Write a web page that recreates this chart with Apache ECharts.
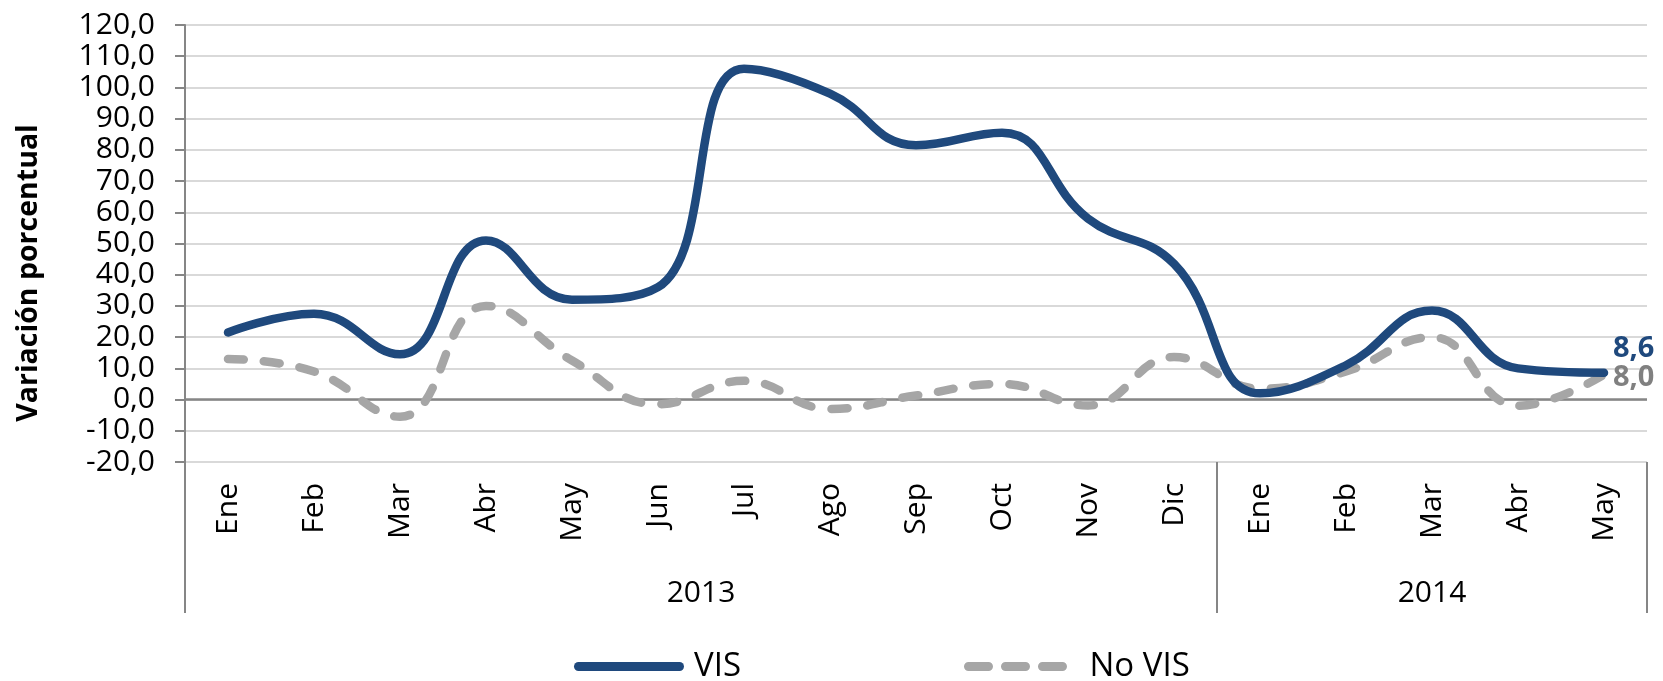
<!DOCTYPE html>
<html>
<head>
<meta charset="utf-8">
<script src="https://cdn.jsdelivr.net/npm/echarts@6/dist/echarts.min.js"></script>
<style>
  html, body { margin: 0; padding: 0; background: #fff; }
  #chart { width: 1663px; height: 681px; }
</style>
</head>
<body>
<div id="chart"></div>
<script>
// 数据
const months = ['Ene', 'Feb', 'Mar', 'Abr', 'May', 'Jun', 'Jul', 'Ago', 'Sep', 'Oct', 'Nov', 'Dic',
                'Ene', 'Feb', 'Mar', 'Abr', 'May'];
const visValues = [21.5, 27.5, 14.5, 51.0, 32.0, 36.0, 106.0, 98.0, 81.5, 85.5, 58.0, 43.5,
                   2.0, 11.0, 28.5, 10.0, 8.6];
const noVisValues = [13.0, 9.0, -5.5, 30.0, 12.5, -1.5, 6.0, -3.0, 1.3, 5.0, -1.9, 13.6,
                     3.5, 9.0, 20.0, -2.0, 8.0];
const years = ['2013', '2014'];
// 年份标签放在细分轴上（每月两格）
const yearSlots = 35;
const yearLabelIdx = [12, 29];
const yearTickIdx = [0, 24, 34];

const font = '"Open Sans", "Noto Sans", sans-serif';
const fmt = v => v.toFixed(1).replace('.', ',');

// 图例图标：实线与三段虚线
const iconSolid = 'path://M4.5,0H105.5A4.5,4.5,0,0,1,105.5,9H4.5A4.5,4.5,0,0,1,4.5,0Z';
const iconDash = 'path://M4.5,0H24.5A4.5,4.5,0,0,1,24.5,9H4.5A4.5,4.5,0,0,1,4.5,0Z' +
    'M41.5,0H61.5A4.5,4.5,0,0,1,61.5,9H41.5A4.5,4.5,0,0,1,41.5,0Z' +
    'M78.5,0H98.5A4.5,4.5,0,0,1,98.5,9H78.5A4.5,4.5,0,0,1,78.5,0Z';

const chart = echarts.init(document.getElementById('chart'));
chart.setOption({
    animation: false,
    grid: { left: 185, right: 16, top: 25, bottom: 219 },
    legend: {
        left: 569, top: 645, itemGap: 223, itemWidth: 110, itemHeight: 9,
        textStyle: { fontFamily: font, fontSize: 33, color: '#000' },
        data: [
            { name: 'VIS', icon: iconSolid, textStyle: { padding: [0, 0, 0, 5] } },
            { name: 'No VIS', icon: iconDash, textStyle: { padding: [0, 0, 0, 14] } }
        ]
    },
    graphic: [{
        type: 'text', x: 29, y: 273, rotation: Math.PI / 2,
        style: {
            text: 'Variación porcentual', fontFamily: font, fontSize: 28.5, fontWeight: 'bold',
            fill: '#000', align: 'center', verticalAlign: 'middle'
        }
    }],
    xAxis: [{
        type: 'category', data: months, boundaryGap: true,
        axisLine: { show: false }, axisTick: { show: false },
        axisLabel: { rotate: 90, margin: 21, interval: 0, fontFamily: font, fontSize: 30, color: '#000' }
    }, {
        type: 'category', position: 'bottom', boundaryGap: false,
        data: Array.from({ length: yearSlots }, (_, i) => {
            const k = yearLabelIdx.indexOf(i);
            return k >= 0 ? years[k] : '';
        }),
        axisLine: { show: false },
        axisTick: {
            show: true, length: 151, interval: i => yearTickIdx.includes(i),
            lineStyle: { color: '#868686', width: 2 }
        },
        axisLabel: {
            interval: 0, margin: 116, fontFamily: font, fontSize: 30, color: '#000',
            formatter: v => v
        }
    }],
    yAxis: {
        type: 'value', min: -20, max: 120, interval: 10,
        axisLine: { show: true, lineStyle: { color: '#868686', width: 2 } },
        axisTick: { show: true, length: 10, lineStyle: { color: '#868686', width: 2 } },
        axisLabel: { margin: 30, formatter: fmt, fontFamily: font, fontSize: 30, color: '#000' },
        splitLine: { lineStyle: { color: '#d9d9d9', width: 2 } }
    },
    series: [{
        name: 'VIS', type: 'line', data: visValues,
        smooth: 0.45, symbol: 'none', z: 3,
        lineStyle: { color: '#1f497d', width: 8.5, cap: 'round', join: 'round' },
        itemStyle: { color: '#1f497d' },
        endLabel: {
            show: true, distance: 9, offset: [0, -24], formatter: p => fmt(p.value),
            color: '#1f497d', fontFamily: font, fontSize: 29, fontWeight: 'bold'
        },
        markLine: {
            silent: true, symbol: 'none', label: { show: false }, z: 1,
            lineStyle: { color: '#868686', width: 2.5, type: 'solid' },
            data: [{ yAxis: 0 }]
        }
    }, {
        name: 'No VIS', type: 'line', data: noVisValues,
        smooth: 0.45, symbol: 'none', z: 2,
        lineStyle: { color: '#a6a6a6', width: 8.5, type: [16, 20], cap: 'round', join: 'round' },
        itemStyle: { color: '#a6a6a6' },
        endLabel: {
            show: true, distance: 9, offset: [0, 3], formatter: p => fmt(p.value),
            color: '#808080', fontFamily: font, fontSize: 29, fontWeight: 'bold'
        }
    }]
});
</script>
</body>
</html>
